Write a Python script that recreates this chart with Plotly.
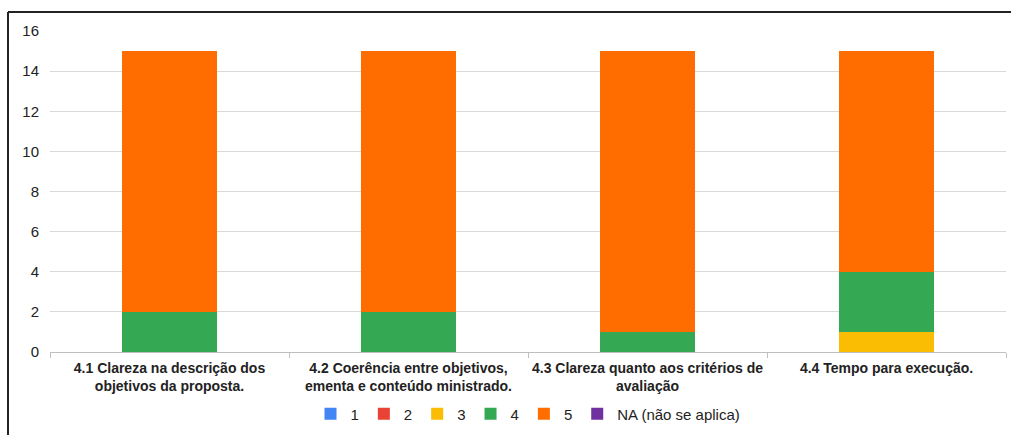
import plotly.graph_objects as go

categories = [
    "4.1 Clareza na descrição dos<br>objetivos da proposta.",
    "4.2 Coerência entre objetivos,<br>ementa e conteúdo ministrado.",
    "4.3 Clareza quanto aos critérios de<br>avaliação",
    "4.4 Tempo para execução.",
]
series_names = ["1", "2", "3", "4", "5", "NA (não se aplica)"]
v1 = [0, 0, 0, 0]
v2 = [0, 0, 0, 0]
v3 = [0, 0, 0, 1]
v4 = [2, 2, 1, 3]
v5 = [13, 13, 14, 11]
vna = [0, 0, 0, 0]
colors = ["#4285F4", "#EA4335", "#FBBC04", "#34A853", "#FF6D01", "#7030A0"]

fig = go.Figure()
for name, vals, c in zip(series_names, [v1, v2, v3, v4, v5, vna], colors):
    fig.add_trace(go.Bar(x=categories, y=vals, name=name, marker=dict(color=c, line=dict(width=0))))

L, R, T, B = 50, 5, 31, 83
W, H = 1011, 435
pw, ph = W - L - R, H - T - B
def px2x(p): return (p - L) / pw
def py2y(p): return (H - B - p) / ph

fig.update_layout(
    width=W, height=H,
    margin=dict(l=L, r=R, t=T, b=B, autoexpand=False),
    barmode="stack",
    bargap=0.6,
    plot_bgcolor="white", paper_bgcolor="white",
    font=dict(family="Liberation Sans, Arial, sans-serif", size=15, color="#222222"),
    showlegend=True,
    legend=dict(orientation="h", x=0.5, xanchor="center", y=py2y(414), yanchor="middle",
                font=dict(size=15, color="#222222"), traceorder="normal",
                tracegroupgap=0),
    xaxis=dict(tickson="boundaries", ticks="outside", ticklen=5, tickcolor="#bfbfbf",
               showline=True, linecolor="#bfbfbf", linewidth=1, tickangle=0, automargin=False,
               ticklabelstandoff=3,
               tickfont=dict(size=14, color="#222222", family="Liberation Sans, Arial, sans-serif", weight="bold"),
               showgrid=False),
    yaxis=dict(range=[0, 16], dtick=2, showgrid=True, gridcolor="#d9d9d9", gridwidth=1,
               zeroline=False, ticks="", tickfont=dict(size=15, color="#222222"),
               ticklabelstandoff=10, automargin=False),
    shapes=[
        dict(type="line", xref="paper", yref="paper", x0=px2x(8), x1=px2x(8), y0=py2y(12), y1=py2y(436),
             line=dict(color="#222222", width=2)),
        dict(type="line", xref="paper", yref="paper", x0=px2x(8), x1=px2x(1012), y0=py2y(12), y1=py2y(12),
             line=dict(color="#222222", width=2)),
    ],
)
fig.write_html("out.html")
